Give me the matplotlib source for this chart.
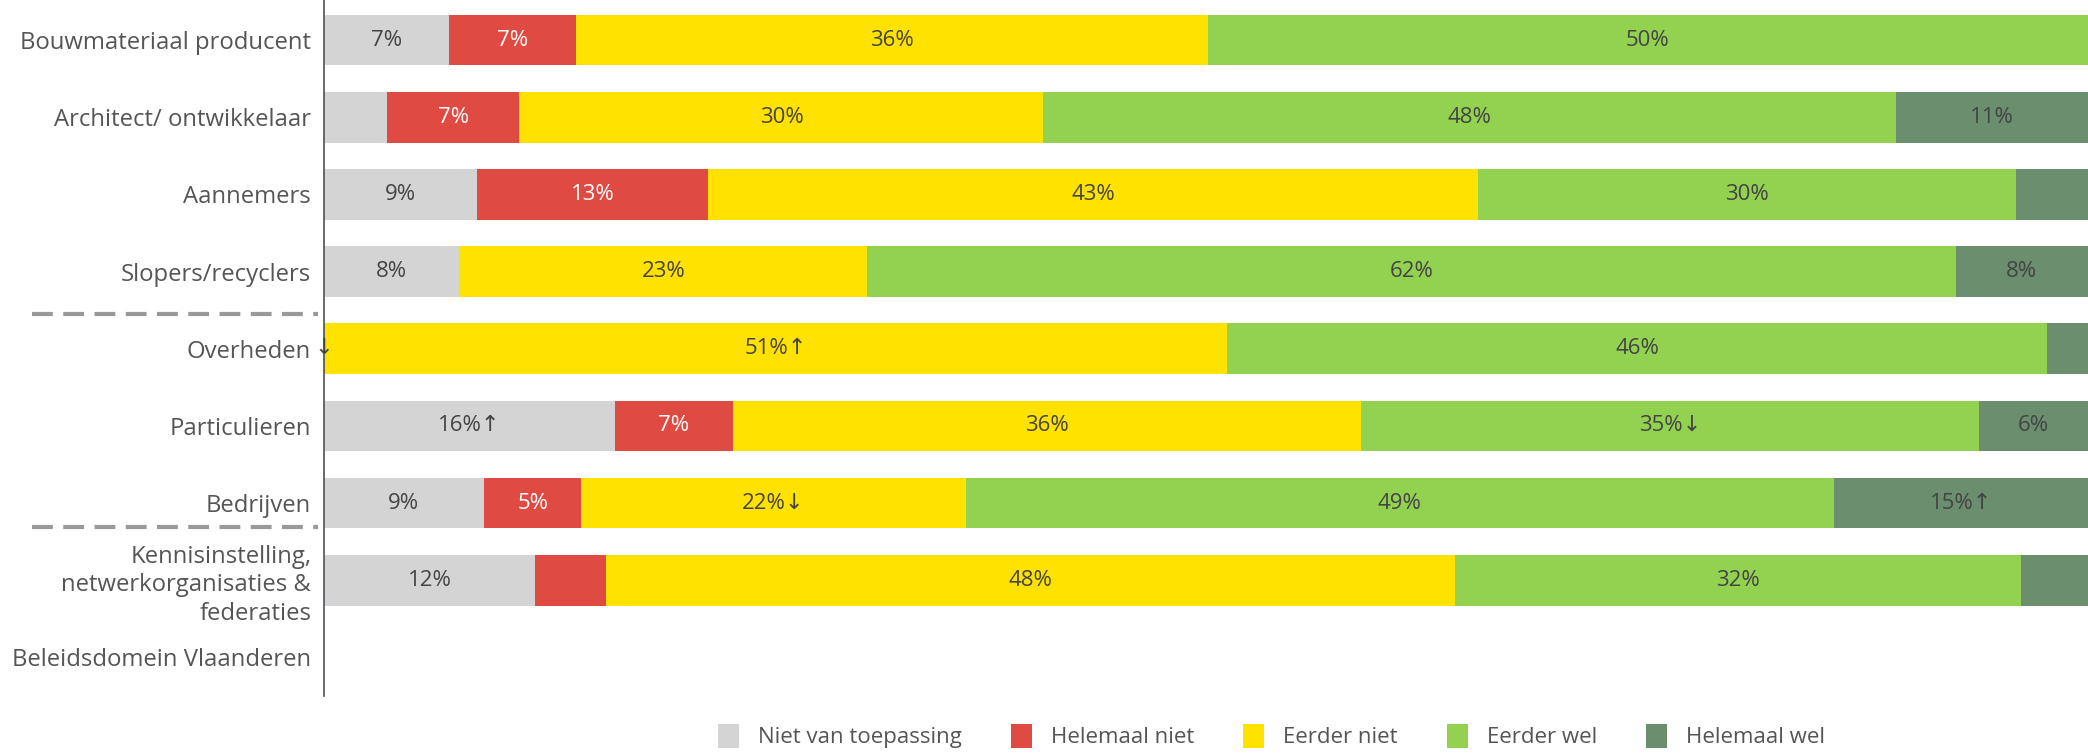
import matplotlib
matplotlib.use("Agg")
import matplotlib.pyplot as plt
from matplotlib.patches import Patch
from matplotlib.lines import Line2D
import numpy as np

plt.rcParams['font.family'] = ['Open Sans', 'DejaVu Sans']

categories = ["Bouwmateriaal producent", "Architect/ ontwikkelaar", "Aannemers",
              "Slopers/recyclers", "Overheden", "Particulieren", "Bedrijven",
              "Kennisinstelling,\nnetwerkorganisaties &\nfederaties",
              "Beleidsdomein Vlaanderen"]

series_names = ["Niet van toepassing", "Helemaal niet", "Eerder niet", "Eerder wel", "Helemaal wel"]

niet_van_toepassing = [7.1, 3.6, 8.7, 7.7, 0.0, 16.5, 9.1, 12.0, 0.0]
helemaal_niet = [7.2, 7.5, 13.1, 0.0, 0.0, 6.7, 5.5, 4.0, 0.0]
eerder_niet = [35.8, 29.7, 43.6, 23.1, 51.2, 35.6, 21.8, 48.1, 0.0]
eerder_wel = [49.9, 48.3, 30.5, 61.7, 46.5, 35.0, 49.2, 32.1, 0.0]
helemaal_wel = [0.0, 10.9, 4.1, 7.5, 2.3, 6.2, 14.4, 3.8, 0.0]

labels_nvt = ["7%", "", "9%", "8%", "↓", "16%↑", "9%", "12%", ""]
labels_hn = ["7%", "7%", "13%", "", "", "7%", "5%", "", ""]
labels_en = ["36%", "30%", "43%", "23%", "51%↑", "36%", "22%↓", "48%", ""]
labels_ew = ["50%", "48%", "30%", "62%", "46%", "35%↓", "49%", "32%", ""]
labels_hw = ["", "11%", "", "8%", "", "6%", "15%↑", "", ""]

colors = ["#D4D4D4", "#DF4A42", "#FFE200", "#92D250", "#6A8E6E"]
label_colors = ["#444444", "#FFFFFF", "#444444", "#444444", "#444444"]

values = [niet_van_toepassing, helemaal_niet, eerder_niet, eerder_wel, helemaal_wel]
labels = [labels_nvt, labels_hn, labels_en, labels_ew, labels_hw]

fig = plt.figure(figsize=(20.88, 7.56), dpi=100)
ax = fig.add_axes([0.155, 0.0794, 0.845, 0.9206])

y = np.arange(len(categories))
left = np.zeros(len(categories))
for vals, labs, col, lcol, name in zip(values, labels, colors, label_colors, series_names):
    vals = np.array(vals)
    ax.barh(y, vals, left=left, height=0.655, color=col, label=name, edgecolor='none')
    for i, (v, lab) in enumerate(zip(vals, labs)):
        if lab:
            ax.text(left[i] + v / 2, y[i], lab, ha='center', va='center',
                    fontsize=16, color=lcol)
    left += vals

ax.set_xlim(0, 100)
ax.set_ylim(8.5, -0.52)
ax.set_yticks(y)
ax.set_yticklabels(categories, fontsize=17.2, color="#555555", linespacing=1.25)
ax.tick_params(axis='y', length=0, pad=9)
ax.set_xticks([])
for s in ['top', 'right', 'bottom']:
    ax.spines[s].set_visible(False)
ax.spines['left'].set_color('#4A5060')
ax.spines['left'].set_linewidth(1.2)

# dashed separators in label area
x0 = (32 - 323.6) / (2088 - 323.6) * 100
x1 = (318 - 323.6) / (2088 - 323.6) * 100
for yy in [3.55, 6.31]:
    line = Line2D([x0, x1], [yy, yy], color='#999999', linewidth=3,
                  linestyle=(0, (5, 2.5)), clip_on=False, transform=ax.transData)
    ax.add_line(line)

handles = [Patch(facecolor=c, edgecolor='none') for c in colors]
fig.legend(handles, series_names, loc='center', bbox_to_anchor=(0.609, 1 - 736 / 756),
           ncol=5, frameon=False, fontsize=16, handlelength=0.95, handleheight=1.3,
           handletextpad=0.85, columnspacing=2.2, labelcolor="#555555")

fig.savefig("out.png", dpi=100)
